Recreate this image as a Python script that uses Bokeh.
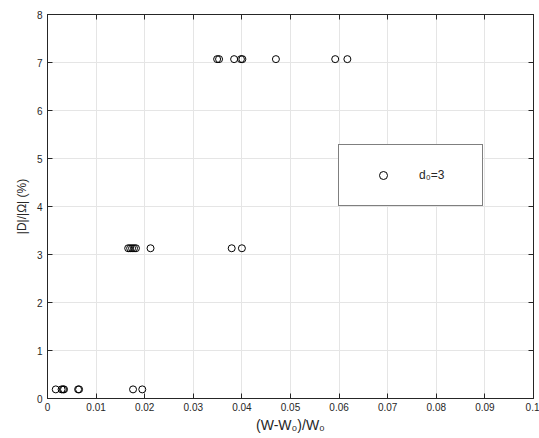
from bokeh.plotting import figure
from bokeh.models import LinearAxis, FixedTicker, Legend, LegendItem, Range1d
from bokeh.embed import file_html
from bokeh.resources import INLINE

# data
x_low = [0.0017, 0.0029, 0.0032, 0.0034, 0.0063, 0.0065, 0.0176, 0.0195]
y_low = [0.19] * len(x_low)
x_mid = [0.0166, 0.0170, 0.0174, 0.0178, 0.0182, 0.0212, 0.0379, 0.0400]
y_mid = [3.13] * len(x_mid)
x_high = [0.0349, 0.0353, 0.0384, 0.0398, 0.0401, 0.0470, 0.0592, 0.0617]
y_high = [7.07] * len(x_high)

x_ticks = [0, 0.01, 0.02, 0.03, 0.04, 0.05, 0.06, 0.07, 0.08, 0.09, 0.1]
x_tick_labels = ["0", "0.01", "0.02", "0.03", "0.04", "0.05", "0.06", "0.07", "0.08", "0.09", "0.1"]
y_ticks = [0, 1, 2, 3, 4, 5, 6, 7, 8]
legend_label = "d₀=3"

xs = x_low + x_mid + x_high
ys = y_low + y_mid + y_high

FONT = "Liberation Sans"
AX = "#262626"

p = figure(width=539, height=438, output_backend="svg", toolbar_location=None,
           x_range=Range1d(0, 0.1), y_range=Range1d(0, 8),
           min_border_left=47, min_border_right=6, min_border_top=14, min_border_bottom=40)
p.background_fill_color = "white"
p.border_fill_color = "white"
p.outline_line_color = AX

r = p.scatter(xs, ys, marker="circle", size=7, fill_color=None, line_color="black", line_width=1)

for ax in (p.xaxis[0], p.yaxis[0]):
    ax.axis_line_color = AX
    ax.major_tick_line_color = AX
    ax.major_tick_in = 5
    ax.major_tick_out = 0
    ax.minor_tick_line_color = None
    ax.major_label_text_font = FONT
    ax.major_label_text_font_size = "10px"
    ax.major_label_text_color = AX
    ax.axis_label_text_font = FONT
    ax.axis_label_text_font_style = "normal"
    ax.axis_label_text_color = AX

p.xaxis[0].ticker = FixedTicker(ticks=x_ticks)
p.xaxis[0].major_label_overrides = {t: l for t, l in zip(x_ticks, x_tick_labels)}
p.yaxis[0].ticker = FixedTicker(ticks=y_ticks)
p.xaxis[0].axis_label = "(W-W₀)/W₀"
p.xaxis[0].axis_label_text_font_size = "14px"
p.xaxis[0].axis_label_standoff = 3
p.xaxis[0].major_label_standoff = 4
p.yaxis[0].axis_label = "|D|/|Ω| (%)"
p.yaxis[0].axis_label_text_font_size = "12px"
p.yaxis[0].axis_label_standoff = 5
p.yaxis[0].major_label_standoff = 5

for side, tk in (("right", y_ticks), ("above", x_ticks)):
    a = LinearAxis(ticker=FixedTicker(ticks=tk))
    a.axis_line_color = AX
    a.major_tick_line_color = AX
    a.major_tick_in = 5
    a.major_tick_out = 0
    a.minor_tick_line_color = None
    a.major_label_overrides = {t: "" for t in tk}
    a.major_label_text_font_size = "1px"
    a.major_label_standoff = 0
    p.add_layout(a, side)

p.grid.grid_line_color = "#e5e5e5"
p.xgrid.ticker = FixedTicker(ticks=x_ticks)
p.ygrid.ticker = FixedTicker(ticks=y_ticks)

legend = Legend(items=[LegendItem(label=legend_label, renderers=[r])],
                location=(291, 192), orientation="vertical",
                padding=20, spacing=0, margin=0,
                glyph_width=48, glyph_height=20, label_standoff=12, label_width=43,
                label_height=20,
                border_line_color="black", border_line_width=1,
                background_fill_color="white", background_fill_alpha=1.0,
                label_text_font=FONT, label_text_font_size="12px", label_text_color=AX)
p.add_layout(legend, "center")

open("out.html", "w").write(file_html(p, INLINE))
